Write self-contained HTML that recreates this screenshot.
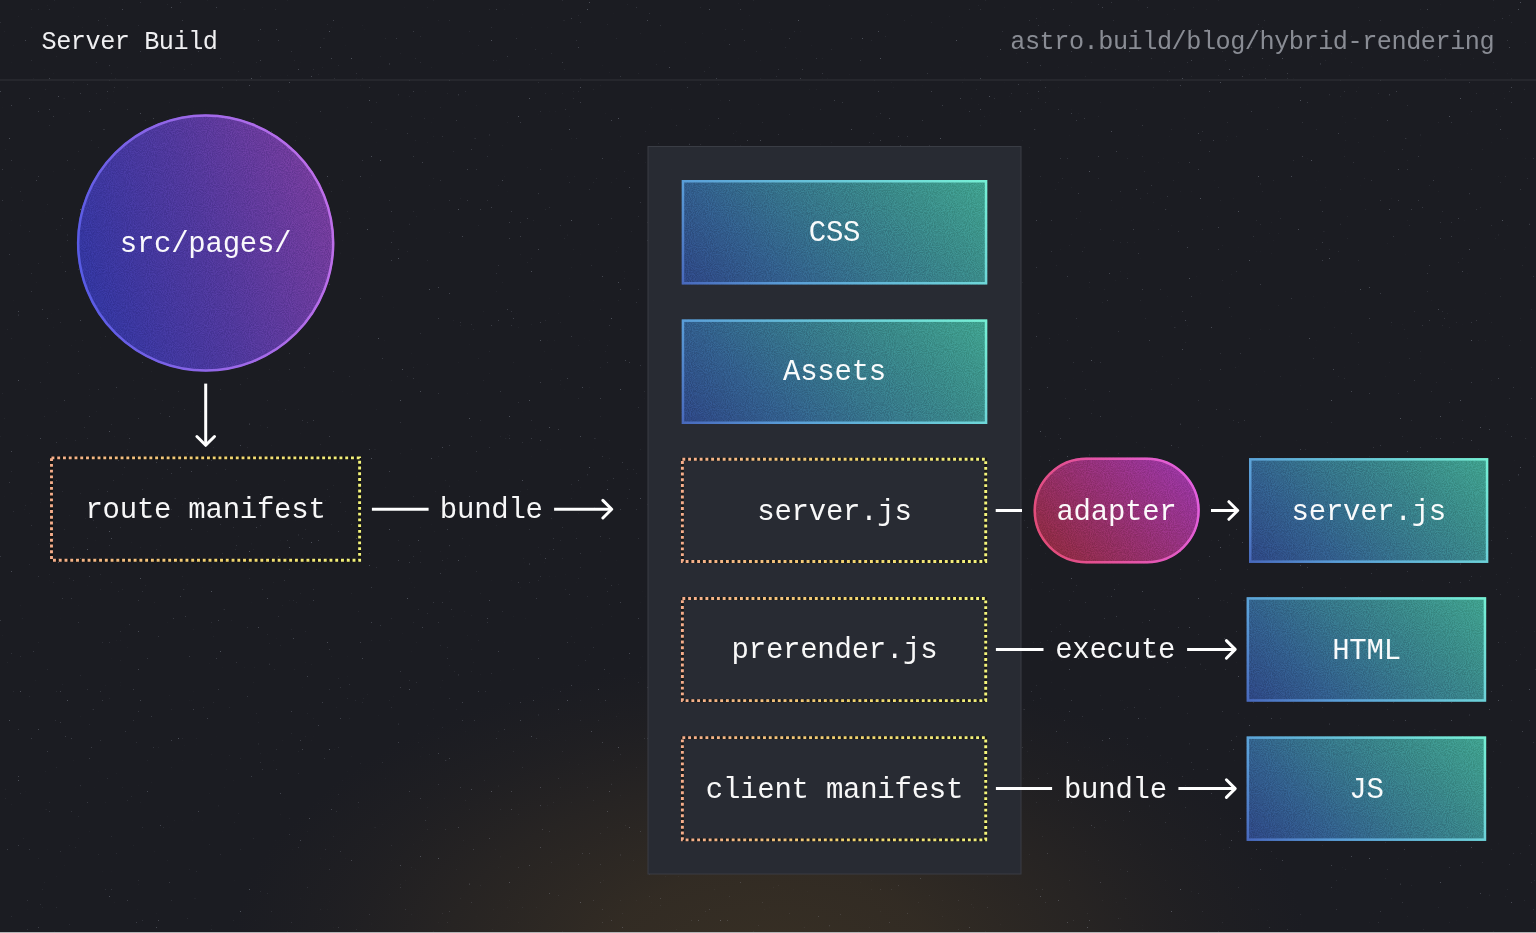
<!DOCTYPE html>
<html lang="en">
<head>
<meta charset="utf-8">
<title>Server Build</title>
<style>
html,body{margin:0;padding:0;background:#1b1c22;}
body{width:1536px;height:933px;overflow:hidden;position:relative;font-family:"Liberation Mono", "DejaVu Sans Mono", monospace;}
svg{position:absolute;left:0;top:0;display:block;}
svg text{font-family:"Liberation Mono", "DejaVu Sans Mono", monospace;white-space:pre;}
</style>
</head>
<body>
<svg width="1536" height="933" viewBox="0 0 1536 933">
<defs>
  <radialGradient id="glow" cx="770" cy="960" r="540" gradientUnits="userSpaceOnUse" gradientTransform="translate(770 960) scale(1 0.555) translate(-770 -960)">
    <stop offset="0" stop-color="#372f24" stop-opacity="1"/>
    <stop offset="0.3" stop-color="#362e24" stop-opacity="0.86"/>
    <stop offset="0.6" stop-color="#332c24" stop-opacity="0.5"/>
    <stop offset="0.8" stop-color="#302a24" stop-opacity="0.22"/>
    <stop offset="1" stop-color="#2c2824" stop-opacity="0"/>
  </radialGradient>
  <linearGradient id="g1" gradientUnits="userSpaceOnUse" x1="51.4" y1="293.2" x2="359.9" y2="192.9"><stop offset="0.1" stop-color="#3336a0"/><stop offset="0.5" stop-color="#50389c"/><stop offset="1" stop-color="#7e3d9c"/></linearGradient>
  <linearGradient id="g2" gradientUnits="userSpaceOnUse" x1="58.8" y1="268.9" x2="352.5" y2="217.2"><stop offset="0" stop-color="#4e5ae4"/><stop offset="0.5" stop-color="#9a68e8"/><stop offset="1" stop-color="#c470ea"/></linearGradient>
  <linearGradient id="g3" gradientUnits="userSpaceOnUse" x1="732.0" y1="334.8" x2="937.0" y2="129.7"><stop offset="0" stop-color="#2e4684"/><stop offset="0.26" stop-color="#325e8c"/><stop offset="0.5" stop-color="#36758a"/><stop offset="0.74" stop-color="#3a8a89"/><stop offset="1" stop-color="#40a28e"/></linearGradient>
  <linearGradient id="g4" gradientUnits="userSpaceOnUse" x1="732.0" y1="334.8" x2="937.0" y2="129.7"><stop offset="0" stop-color="#4868bc"/><stop offset="0.26" stop-color="#5a9ed8"/><stop offset="0.74" stop-color="#6ed6d8"/><stop offset="1" stop-color="#76f0d4"/></linearGradient>
  <linearGradient id="g5" gradientUnits="userSpaceOnUse" x1="732.0" y1="474.2" x2="937.0" y2="269.1"><stop offset="0" stop-color="#2e4684"/><stop offset="0.26" stop-color="#325e8c"/><stop offset="0.5" stop-color="#36758a"/><stop offset="0.74" stop-color="#3a8a89"/><stop offset="1" stop-color="#40a28e"/></linearGradient>
  <linearGradient id="g6" gradientUnits="userSpaceOnUse" x1="732.0" y1="474.2" x2="937.0" y2="269.1"><stop offset="0" stop-color="#4868bc"/><stop offset="0.26" stop-color="#5a9ed8"/><stop offset="0.74" stop-color="#6ed6d8"/><stop offset="1" stop-color="#76f0d4"/></linearGradient>
  <linearGradient id="g7" gradientUnits="userSpaceOnUse" x1="1282.6" y1="596.5" x2="1454.7" y2="424.5"><stop offset="0" stop-color="#2e4684"/><stop offset="0.26" stop-color="#325e8c"/><stop offset="0.5" stop-color="#36758a"/><stop offset="0.74" stop-color="#3a8a89"/><stop offset="1" stop-color="#40a28e"/></linearGradient>
  <linearGradient id="g8" gradientUnits="userSpaceOnUse" x1="1282.6" y1="596.5" x2="1454.7" y2="424.5"><stop offset="0" stop-color="#4868bc"/><stop offset="0.26" stop-color="#5a9ed8"/><stop offset="0.74" stop-color="#6ed6d8"/><stop offset="1" stop-color="#76f0d4"/></linearGradient>
  <linearGradient id="g9" gradientUnits="userSpaceOnUse" x1="1280.4" y1="735.5" x2="1452.4" y2="563.4"><stop offset="0" stop-color="#2e4684"/><stop offset="0.26" stop-color="#325e8c"/><stop offset="0.5" stop-color="#36758a"/><stop offset="0.74" stop-color="#3a8a89"/><stop offset="1" stop-color="#40a28e"/></linearGradient>
  <linearGradient id="g10" gradientUnits="userSpaceOnUse" x1="1280.4" y1="735.5" x2="1452.4" y2="563.4"><stop offset="0" stop-color="#4868bc"/><stop offset="0.26" stop-color="#5a9ed8"/><stop offset="0.74" stop-color="#6ed6d8"/><stop offset="1" stop-color="#76f0d4"/></linearGradient>
  <linearGradient id="g11" gradientUnits="userSpaceOnUse" x1="1280.4" y1="874.7" x2="1452.4" y2="702.6"><stop offset="0" stop-color="#2e4684"/><stop offset="0.26" stop-color="#325e8c"/><stop offset="0.5" stop-color="#36758a"/><stop offset="0.74" stop-color="#3a8a89"/><stop offset="1" stop-color="#40a28e"/></linearGradient>
  <linearGradient id="g12" gradientUnits="userSpaceOnUse" x1="1280.4" y1="874.7" x2="1452.4" y2="702.6"><stop offset="0" stop-color="#4868bc"/><stop offset="0.26" stop-color="#5a9ed8"/><stop offset="0.74" stop-color="#6ed6d8"/><stop offset="1" stop-color="#76f0d4"/></linearGradient>
  <linearGradient id="g13" gradientUnits="userSpaceOnUse" x1="1048.6" y1="578.5" x2="1184.7" y2="442.5"><stop offset="0.12" stop-color="#8f2b44"/><stop offset="0.5" stop-color="#943072"/><stop offset="0.88" stop-color="#98359e"/></linearGradient>
  <linearGradient id="g14" gradientUnits="userSpaceOnUse" x1="1026.2" y1="543.4" x2="1207.1" y2="477.6"><stop offset="0" stop-color="#e04a70"/><stop offset="0.5" stop-color="#e454a8"/><stop offset="1" stop-color="#e262e8"/></linearGradient>
  <linearGradient id="gDot" x1="0" y1="0.5" x2="1" y2="0.5">
    <stop offset="0" stop-color="#f6ae8c"/>
    <stop offset="0.55" stop-color="#f2d470"/>
    <stop offset="1" stop-color="#f4f47c"/>
  </linearGradient>
  <filter id="grain" x="0" y="0" width="100%" height="100%" color-interpolation-filters="sRGB">
    <feTurbulence type="fractalNoise" baseFrequency="0.95" numOctaves="2" seed="3" result="n"/>
    <feColorMatrix in="n" type="matrix" values="2.4 0 0 0 -0.7  2.4 0 0 0 -0.7  2.4 0 0 0 -0.7  0 0 0 0 0.10" result="g"/>
    <feBlend in="g" in2="SourceGraphic" mode="overlay" result="b"/>
    <feComposite in="b" in2="SourceGraphic" operator="in"/>
  </filter>
  <filter id="specks" x="0" y="0" width="100%" height="100%" color-interpolation-filters="sRGB">
    <feTurbulence type="fractalNoise" baseFrequency="0.55" numOctaves="1" seed="11" result="n"/>
    <feColorMatrix in="n" type="matrix" values="0 0 0 0 0.75  0 0 0 0 0.78  0 0 0 0 0.85  0 14 0 0 -10.6"/>
  </filter>
</defs>
<rect width="1536" height="933" fill="#1b1c22"/>
<rect width="1536" height="933" fill="url(#glow)"/>
<rect width="1536" height="933" fill="#000" filter="url(#specks)" opacity="0.3"/>
<rect x="0" y="79.3" width="1536" height="1.4" fill="#2b2d33"/>

<g opacity="0.98">
<text x="41.5" y="49.2" font-size="25.2" letter-spacing="-0.45" fill="#f4f4f6" text-anchor="start" >Server Build</text>
<text x="1494.2" y="49.0" font-size="25.2" letter-spacing="-0.45" fill="#8c8f97" text-anchor="end" >astro.build/blog/hybrid-rendering</text>
</g>
<g filter="url(#grain)">
<circle cx="205.65" cy="243.05" r="128.75" fill="url(#g1)"/>
</g>
<circle cx="205.65" cy="243.05" r="127.5" fill="none" stroke="url(#g2)" stroke-width="2.5"/>
<rect x="648" y="146.5" width="373" height="727.5" fill="#282b33" stroke="#3a3d45" stroke-width="1"/>
<g filter="url(#grain)">
<rect x="681.7" y="180.0" width="305.6" height="104.5" fill="url(#g3)"/>
<rect x="681.7" y="319.4" width="305.6" height="104.6" fill="url(#g5)"/>
<rect x="1249.0" y="458.1" width="239.3" height="104.8" fill="url(#g7)"/>
<rect x="1246.6" y="597.2" width="239.6" height="104.5" fill="url(#g9)"/>
<rect x="1246.6" y="736.4" width="239.6" height="104.5" fill="url(#g11)"/>
<rect x="1033.5" y="457.6" width="166.3" height="105.8" rx="52.9" fill="url(#g13)"/>
</g>
<rect x="682.95" y="181.25" width="303.10" height="102.00" fill="none" stroke="url(#g4)" stroke-width="2.5"/>
<rect x="682.95" y="320.65" width="303.10" height="102.10" fill="none" stroke="url(#g6)" stroke-width="2.5"/>
<rect x="1250.25" y="459.35" width="236.80" height="102.30" fill="none" stroke="url(#g8)" stroke-width="2.5"/>
<rect x="1247.85" y="598.45" width="237.10" height="102.00" fill="none" stroke="url(#g10)" stroke-width="2.5"/>
<rect x="1247.85" y="737.65" width="237.10" height="102.00" fill="none" stroke="url(#g12)" stroke-width="2.5"/>
<rect x="1034.75" y="458.85" width="163.8" height="103.3" rx="51.65" fill="none" stroke="url(#g14)" stroke-width="2.5"/>
<rect x="51.49" y="457.89" width="308.12" height="102.42" fill="none" stroke="#0c0900" stroke-opacity="0.5" stroke-width="2.88"/><rect x="51.49" y="457.89" width="308.12" height="102.42" fill="none" stroke="url(#gDot)" stroke-width="2.88" stroke-dasharray="2.88 2.88"/>
<rect x="682.39" y="459.24" width="303.32" height="102.22" fill="none" stroke="#0c0900" stroke-opacity="0.5" stroke-width="2.88"/><rect x="682.39" y="459.24" width="303.32" height="102.22" fill="none" stroke="url(#gDot)" stroke-width="2.88" stroke-dasharray="2.88 2.88"/>
<rect x="682.39" y="598.44" width="303.32" height="102.22" fill="none" stroke="#0c0900" stroke-opacity="0.5" stroke-width="2.88"/><rect x="682.39" y="598.44" width="303.32" height="102.22" fill="none" stroke="url(#gDot)" stroke-width="2.88" stroke-dasharray="2.88 2.88"/>
<rect x="682.39" y="737.64" width="303.32" height="102.22" fill="none" stroke="#0c0900" stroke-opacity="0.5" stroke-width="2.88"/><rect x="682.39" y="737.64" width="303.32" height="102.22" fill="none" stroke="url(#gDot)" stroke-width="2.88" stroke-dasharray="2.88 2.88"/>
<g opacity="0.97">
<text x="205.5" y="252.0" font-size="29" letter-spacing="-0.25" fill="#ffffff" text-anchor="middle" >src/pages/</text>
<text x="834.5" y="241.0" font-size="29" letter-spacing="-0.25" fill="#ffffff" text-anchor="middle" >CSS</text>
<text x="834.5" y="380.2" font-size="29" letter-spacing="-0.25" fill="#ffffff" text-anchor="middle" >Assets</text>
<text x="834.5" y="519.5" font-size="29" letter-spacing="-0.25" fill="#ffffff" text-anchor="middle" >server.js</text>
<text x="834.5" y="658.0" font-size="29" letter-spacing="-0.25" fill="#ffffff" text-anchor="middle" >prerender.js</text>
<text x="834.5" y="797.5" font-size="29" letter-spacing="-0.25" fill="#ffffff" text-anchor="middle" >client manifest</text>
<text x="205.5" y="518.0" font-size="29" letter-spacing="-0.25" fill="#ffffff" text-anchor="middle" >route manifest</text>
<text x="491.3" y="518.0" font-size="29" letter-spacing="-0.25" fill="#ffffff" text-anchor="middle" >bundle</text>
<text x="1116.5" y="519.5" font-size="29" letter-spacing="-0.25" fill="#ffffff" text-anchor="middle" >adapter</text>
<text x="1115.2" y="658.3" font-size="29" letter-spacing="-0.25" fill="#ffffff" text-anchor="middle" >execute</text>
<text x="1115.4" y="797.5" font-size="29" letter-spacing="-0.25" fill="#ffffff" text-anchor="middle" >bundle</text>
<text x="1368.8" y="519.5" font-size="29" letter-spacing="-0.25" fill="#ffffff" text-anchor="middle" >server.js</text>
<text x="1366.5" y="658.5" font-size="29" letter-spacing="-0.25" fill="#ffffff" text-anchor="middle" >HTML</text>
<text x="1366.5" y="797.5" font-size="29" letter-spacing="-0.25" fill="#ffffff" text-anchor="middle" >JS</text>
</g>
<g fill="none" stroke="#ffffff" stroke-width="3" stroke-linecap="round" stroke-linejoin="round">
<path d="M205.7 383.6 V445.3" stroke-linecap="butt"/><path d="M196.9 436.5 L205.7 445.3 L214.5 436.5"/>
<path d="M371.9 509.2 H428.6" stroke-linecap="butt"/>
<path d="M554.1 509.2 H611.7" stroke-linecap="butt"/><path d="M602.90 500.40 L611.7 509.2 L602.90 518.00" />
<path d="M995.7 510.5 H1022" stroke-linecap="butt"/>
<path d="M1211 510.5 H1237.7" stroke-linecap="butt"/><path d="M1228.90 501.70 L1237.7 510.5 L1228.90 519.30" />
<path d="M995.9 649.4 H1043.5" stroke-linecap="butt"/>
<path d="M1187.1 649.4 H1235.2" stroke-linecap="butt"/><path d="M1226.40 640.60 L1235.2 649.4 L1226.40 658.20" />
<path d="M995.9 788.6 H1052.1" stroke-linecap="butt"/>
<path d="M1178.4 788.6 H1235.2" stroke-linecap="butt"/><path d="M1226.40 779.80 L1235.2 788.6 L1226.40 797.40" />
</g>
<rect x="0" y="932" width="1536" height="1" fill="#b4b4b6"/>
</svg>
</body>
</html>
